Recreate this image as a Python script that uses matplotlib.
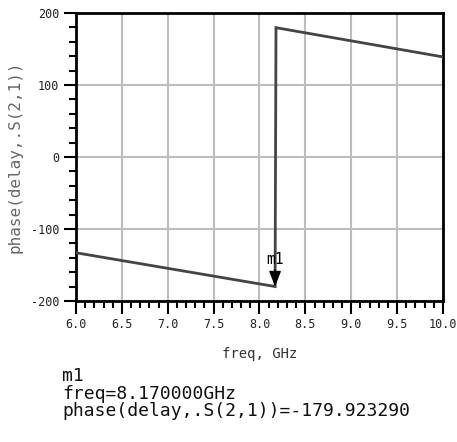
import matplotlib
matplotlib.use("Agg")
import matplotlib.pyplot as plt
from matplotlib.ticker import MultipleLocator

# trace: phase(delay,.S(2,1)) vs freq
FREQ = [6.0, 8.17, 8.18, 10.0]
PHASE = [-133.0, -179.92, 179.6, 139.0]

# marker m1
M1_FREQ = 8.17
M1_PHASE = -179.923290

X_TICKS = [6.0, 6.5, 7.0, 7.5, 8.0, 8.5, 9.0, 9.5, 10.0]
Y_TICKS = [-200, -100, 0, 100, 200]

MONO = "DejaVu Sans Mono"

fig = plt.figure(figsize=(4.57, 4.42), dpi=100)
ax = fig.add_axes([0.1663, 0.319, 0.803, 0.6516])

ax.plot(FREQ, PHASE, color="#444444", lw=2.0, solid_joinstyle="miter", zorder=3)

ax.set_xlim(6.0, 10.0)
ax.set_ylim(-200, 200)
ax.set_xticks(X_TICKS)
ax.set_xticklabels([f"{v:.1f}" for v in X_TICKS])
ax.set_yticks(Y_TICKS)
ax.set_yticklabels([str(v) for v in Y_TICKS])
ax.xaxis.set_minor_locator(MultipleLocator(0.1))
ax.yaxis.set_minor_locator(MultipleLocator(20))

ax.grid(True, which="major", color="#bdbdbd", lw=1.5)
ax.set_axisbelow(True)
for s in ax.spines.values():
    s.set_linewidth(2.0)
    s.set_color("black")

ax.tick_params(which="major", length=9, width=1.5, direction="out", labelsize=8.5,
               colors="black", pad=3)
ax.tick_params(which="minor", length=5, width=1.5, direction="out")
ax.tick_params(top=False, right=False, which="both")
for lab in ax.get_xticklabels() + ax.get_yticklabels():
    lab.set_family(MONO)
    lab.set_color("#222222")

ax.set_xlabel("freq, GHz", family=MONO, fontsize=10, color="#333333", labelpad=12)
ax.set_ylabel("phase(delay,.S(2,1))", family=MONO, fontsize=11.5, color="#666666",
              labelpad=6)

ax.annotate("m1", xy=(M1_FREQ, M1_PHASE), xytext=(0, 14), textcoords="offset points",
            ha="center", va="bottom", family=MONO, fontsize=10.5, color="black",
            arrowprops=dict(arrowstyle="-|>,head_length=0.9,head_width=0.35",
                            color="black", lw=1.0, shrinkA=0, shrinkB=0),
            zorder=4)

readout = "\n".join([
    "m1",
    f"freq={M1_FREQ:.6f}GHz",
    f"phase(delay,.S(2,1))={M1_PHASE:.6f}",
])
fig.text(62 / 457, 1 - 420 / 442, readout, family=MONO, fontsize=13,
         color="#111111", va="bottom", ha="left", linespacing=0.95)

fig.savefig("out.png", dpi=100)
